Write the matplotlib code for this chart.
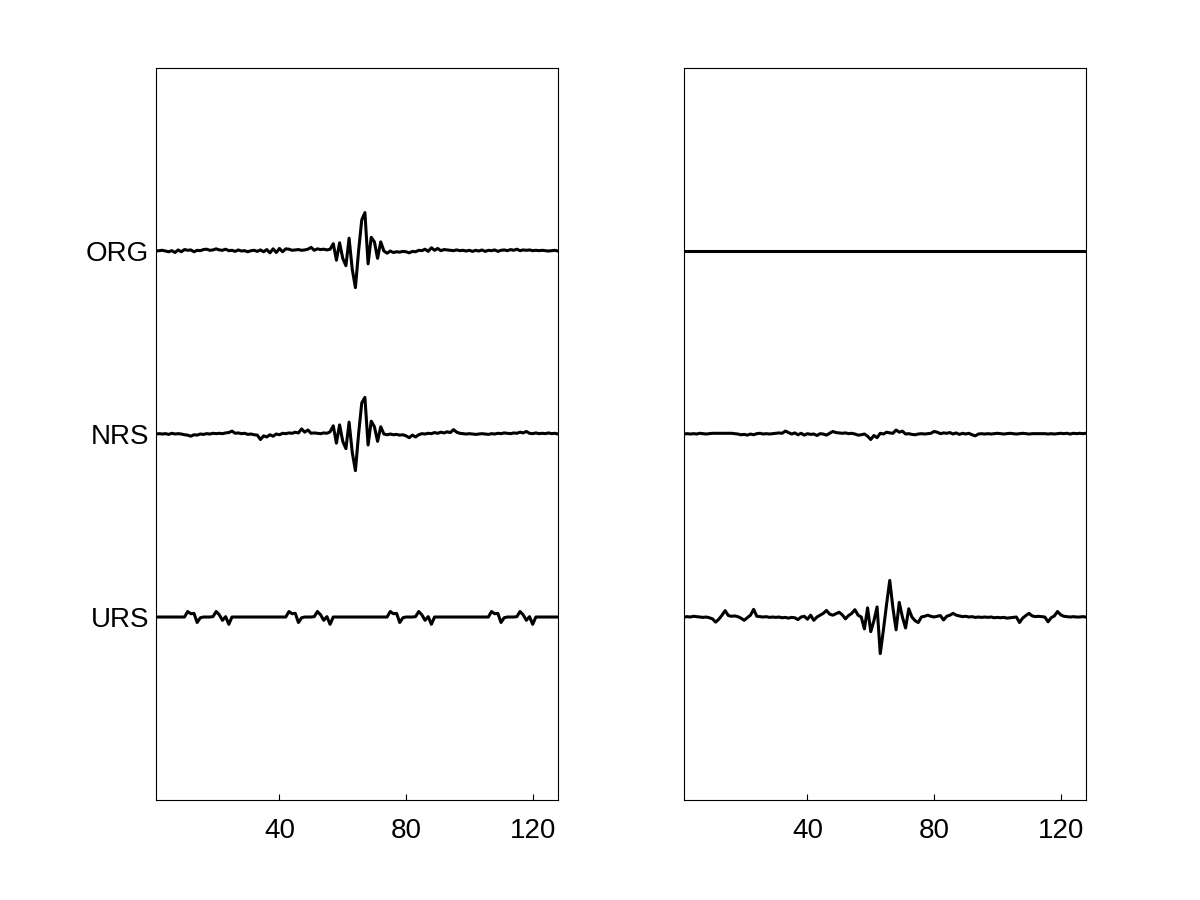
import matplotlib
matplotlib.use("Agg")
import matplotlib.pyplot as plt
import numpy as np

plt.rcParams['font.family'] = ['Liberation Sans', 'DejaVu Sans']

# sample index 1..128
n_samples = 128

org_left = [
    0.000, 0.002, 0.004, 0.000, -0.004, 0.002, -0.008, 0.006, -0.004, 0.008,
    0.004, 0.006, -0.004, 0.004, 0.002, 0.008, 0.010, 0.004, 0.006, 0.012,
    0.006, 0.004, 0.010, 0.002, 0.004, -0.002, 0.006, 0.000, 0.002, -0.004,
    0.002, 0.004, -0.002, 0.006, -0.004, 0.008, -0.010, 0.012, -0.008, 0.014,
    -0.004, 0.012, 0.010, 0.004, 0.006, 0.008, 0.004, 0.006, 0.010, 0.020,
    0.004, 0.012, 0.008, 0.010, 0.006, 0.010, 0.040, -0.050, 0.045, -0.040,
    -0.080, 0.070, -0.100, -0.200, 0.000, 0.170, 0.210, -0.070, 0.075, 0.050,
    -0.040, 0.050, 0.000, -0.012, 0.000, -0.008, -0.004, -0.006, -0.002, -0.004,
    -0.010, -0.002, -0.004, 0.004, 0.002, 0.010, -0.002, 0.018, 0.004, 0.014,
    0.002, 0.008, 0.006, 0.004, 0.002, 0.006, 0.002, 0.004, 0.000, 0.004,
    -0.002, 0.004, 0.000, 0.006, -0.002, 0.004, 0.002, 0.006, -0.002, 0.004,
    0.006, 0.002, 0.008, 0.004, 0.010, 0.002, 0.006, 0.004, 0.006, 0.002,
    0.004, 0.002, 0.004, 0.002, 0.000, 0.002, 0.004, 0.000,
]

nrs_left = [
    0.000, 0.002, 0.000, 0.002, -0.002, 0.004, 0.000, 0.002, 0.000, -0.004,
    -0.006, -0.012, -0.004, -0.006, 0.000, -0.002, 0.002, 0.000, 0.004, 0.002,
    0.004, 0.002, 0.006, 0.008, 0.016, 0.004, 0.006, 0.002, 0.004, -0.002,
    0.000, -0.004, -0.006, -0.030, -0.010, -0.016, -0.004, -0.012, 0.000, -0.004,
    0.004, 0.002, 0.006, 0.004, 0.010, 0.006, 0.028, 0.010, 0.022, 0.004,
    0.006, 0.004, 0.002, 0.006, 0.004, 0.012, 0.045, -0.050, 0.050, -0.040,
    -0.080, 0.065, -0.100, -0.200, 0.000, 0.170, 0.200, -0.060, 0.070, 0.040,
    -0.040, 0.040, 0.000, -0.004, 0.000, -0.004, -0.002, -0.006, -0.004, -0.010,
    -0.020, -0.006, -0.016, -0.004, 0.002, 0.000, 0.004, 0.002, 0.008, 0.004,
    0.010, 0.006, 0.012, 0.008, 0.024, 0.010, 0.004, 0.002, 0.000, 0.002,
    0.000, -0.002, 0.000, 0.002, 0.000, -0.002, 0.002, 0.000, 0.004, 0.002,
    0.006, 0.004, 0.002, 0.006, 0.004, 0.010, 0.006, 0.014, 0.004, 0.002,
    0.006, 0.002, 0.004, 0.002, 0.006, 0.002, 0.004, 0.000,
]

urs_left = [
    0, 0, 0, 0, 0, 0, 0, 0, 0, 0,
    0.030, 0.018, 0.020, -0.030, -0.004, 0, 0, 0, 0.002, 0.030,
    0.012, -0.018, 0.002, -0.040, 0, 0, 0, 0, 0, 0,
    0, 0, 0, 0, 0, 0, 0, 0, 0, 0,
    0, 0, 0.030, 0.018, 0.020, -0.030, -0.004, 0, 0, 0,
    0.002, 0.030, 0.012, -0.018, 0.002, -0.040, 0, 0, 0, 0,
    0, 0, 0, 0, 0, 0, 0, 0, 0, 0,
    0, 0, 0, 0, 0.030, 0.018, 0.020, -0.030, -0.004, 0,
    0, 0, 0.002, 0.030, 0.012, -0.018, 0.002, -0.040, 0, 0,
    0, 0, 0, 0, 0, 0, 0, 0, 0, 0,
    0, 0, 0, 0, 0, 0, 0.030, 0.018, 0.020, -0.030,
    -0.004, 0, 0, 0, 0.002, 0.030, 0.012, -0.018, 0.002, -0.040,
    0, 0, 0, 0, 0, 0, 0, 0,
]

org_right = [0.0] * n_samples

nrs_right = [
    0.000, 0.002, 0.000, 0.002, 0.000, 0.004, 0.002, 0.000, 0.002, 0.004,
    0.004, 0.004, 0.004, 0.004, 0.004, 0.004, 0.002, 0.000, -0.004, -0.002,
    -0.006, 0.000, -0.004, 0.002, 0.004, 0.000, 0.002, 0.000, 0.002, 0.004,
    0.006, 0.004, 0.016, 0.008, 0.000, 0.006, -0.004, 0.004, -0.006, 0.002,
    -0.002, 0.000, -0.008, 0.002, 0.000, -0.006, 0.004, 0.014, 0.008, 0.006,
    0.004, 0.006, 0.002, 0.004, 0.000, -0.006, -0.004, 0.000, -0.012, -0.030,
    -0.008, -0.020, 0.004, 0.000, 0.010, 0.006, 0.004, 0.022, 0.010, 0.016,
    0.000, 0.002, -0.002, -0.004, 0.000, 0.002, 0.000, 0.002, 0.004, 0.014,
    0.010, 0.002, 0.006, 0.004, 0.008, 0.000, 0.006, -0.002, 0.004, 0.000,
    0.004, -0.004, -0.010, 0.000, 0.002, 0.000, 0.002, 0.000, 0.002, 0.004,
    0.002, 0.000, 0.002, 0.004, 0.002, 0.000, 0.002, 0.004, 0.002, 0.000,
    0.002, 0.002, 0.002, 0.002, 0.002, 0.000, 0.002, 0.000, 0.002, 0.004,
    0.002, 0.004, 0.000, 0.004, 0.002, 0.004, 0.002, 0.004,
]

urs_right = [
    0.000, 0.002, 0.000, 0.004, 0.002, 0.000, -0.002, 0.000, -0.004, -0.010,
    -0.028, -0.012, 0.010, 0.035, 0.008, 0.004, 0.006, 0.002, -0.006, -0.018,
    -0.004, 0.010, 0.042, 0.004, 0.002, 0.000, 0.002, -0.002, 0.000, -0.002,
    0.000, -0.004, -0.002, -0.006, -0.002, -0.004, -0.014, 0.000, 0.004, -0.012,
    0.010, -0.018, 0.000, 0.010, 0.020, 0.036, 0.016, 0.010, 0.018, 0.026,
    0.012, -0.010, 0.008, 0.020, 0.040, 0.010, 0.000, -0.065, 0.050, -0.080,
    -0.020, 0.055, -0.200, -0.070, 0.070, 0.200, 0.050, -0.070, 0.080, 0.000,
    -0.060, 0.045, 0.000, -0.020, -0.030, 0.000, 0.004, 0.010, 0.004, 0.000,
    0.004, 0.008, -0.016, 0.004, 0.010, 0.020, 0.010, 0.006, 0.002, 0.004,
    0.000, 0.002, -0.002, 0.000, -0.002, 0.000, -0.002, 0.000, -0.004, -0.002,
    -0.004, -0.002, -0.006, -0.004, -0.002, 0.000, -0.030, -0.006, 0.008, 0.020,
    0.006, 0.002, 0.004, 0.002, 0.000, -0.026, -0.004, 0.006, 0.030, 0.012,
    0.004, 0.002, 0.000, 0.002, 0.000, 0.000, 0.002, 0.000,
]

trace_labels = ['URS', 'NRS', 'ORG']
trace_offsets = [1, 2, 3]
x_ticks = [40, 80, 120]

x = np.arange(1, n_samples + 1)

fig = plt.figure(figsize=(12, 9), dpi=100)
ax_l = fig.add_axes([0.13, 0.1111, 0.335, 0.8133])
ax_r = fig.add_axes([0.57, 0.1111, 0.335, 0.8133])

left_traces = [urs_left, nrs_left, org_left]
right_traces = [urs_right, nrs_right, org_right]

for ax, traces in ((ax_l, left_traces), (ax_r, right_traces)):
    for off, tr in zip(trace_offsets, traces):
        ax.plot(x, off + np.asarray(tr), color='black', linewidth=2.2,
                solid_joinstyle='round')
    ax.set_xlim(1, n_samples)
    ax.set_ylim(0, 4)
    ax.set_xticks(x_ticks)
    ax.set_xticklabels([str(t) for t in x_ticks])
    ax.tick_params(axis='both', direction='in', length=4, width=0.8,
                   labelsize=20, pad=13)
    for s in ax.spines.values():
        s.set_linewidth(0.8)

ax_l.set_yticks(trace_offsets)
ax_l.set_yticklabels(trace_labels)
ax_l.tick_params(axis='y', length=0, pad=5)
ax_r.set_yticks([])

fig.savefig('out.png', dpi=100, facecolor='white')
